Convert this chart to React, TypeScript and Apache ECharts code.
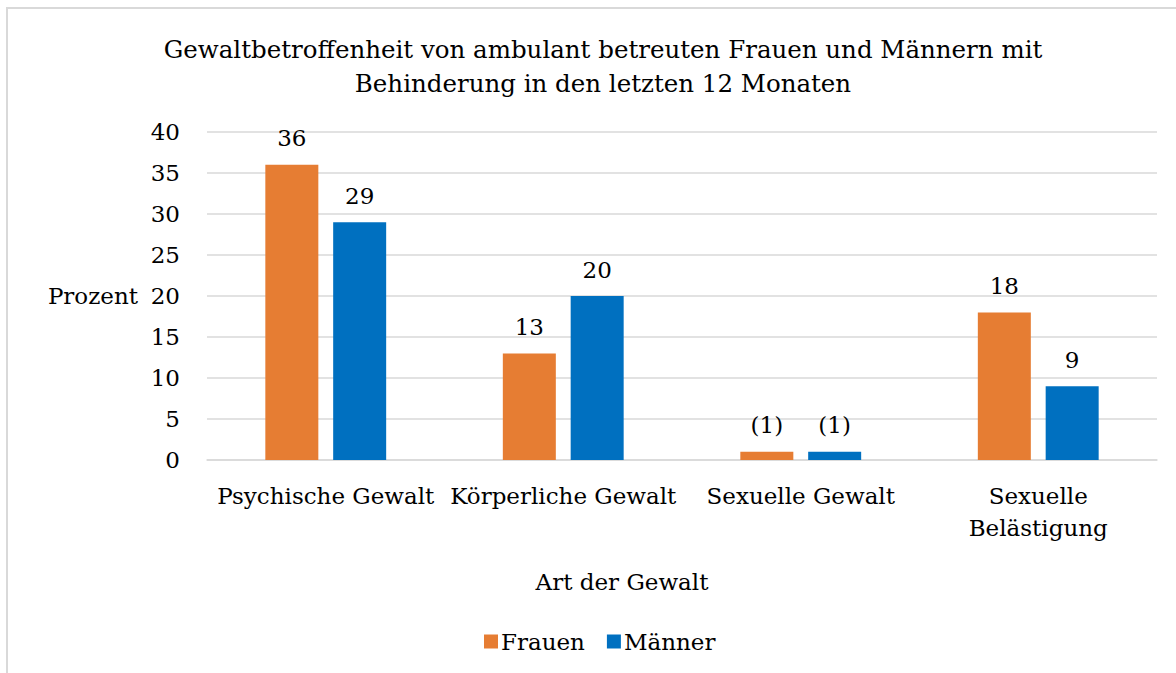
import React, { useEffect, useRef } from "react";
import * as echarts from "echarts";

const categories = ["Psychische Gewalt", "Körperliche Gewalt", "Sexuelle Gewalt", "Sexuelle\nBelästigung"];
const frauen = [36, 13, 1, 18];
const maenner = [29, 20, 1, 9];
const lowCaseCount = [false, false, true, false];
const yTicks = { min: 0, max: 40, interval: 5 };

const FONT = "DejaVu Serif";

export default function App() {
  const ref = useRef<HTMLDivElement>(null);
  useEffect(() => {
    document.body.style.margin = "0";
    document.body.style.overflow = "hidden";
    const chart = echarts.init(ref.current!, null, { renderer: "svg" });
    const labelFmt = (p: any) => (lowCaseCount[p.dataIndex] ? `(${p.value})` : `${p.value}`);
    chart.setOption({
      animation: false,
      backgroundColor: "#ffffff",
      textStyle: { fontFamily: FONT },
      title: {
        text: "Gewaltbetroffenheit von ambulant betreuten Frauen und Männern mit\nBehinderung in den letzten 12 Monaten",
        left: 598,
        top: 27,
        textAlign: "center",
        textStyle: { fontFamily: FONT, fontSize: 24.5, fontWeight: "normal", color: "#000", lineHeight: 34 },
      },
      graphic: [
        {
          type: "rect",
          shape: { x: 7, y: 8, width: 1200, height: 700 },
          style: { fill: "none", stroke: "#D9D9D9", lineWidth: 2 },
          silent: true,
        },
      ],
      legend: {
        left: 479,
        top: 625,
        itemWidth: 14,
        itemHeight: 14,
        itemGap: 22,
        icon: "rect",
        textStyle: { fontFamily: FONT, fontSize: 23, color: "#000", padding: [0, 0, 0, -2] },
        data: ["Frauen", "Männer"],
      },
      grid: { left: 207, right: 19, top: 132, bottom: 673 - 460 },
      xAxis: {
        type: "category",
        data: categories,
        axisLine: { lineStyle: { color: "#D9D9D9", width: 1.5 } },
        axisTick: { show: false },
        axisLabel: { fontFamily: FONT, fontSize: 23, color: "#000", margin: 20, lineHeight: 32, interval: 0 },
        name: "Art der Gewalt",
        nameLocation: "middle",
        nameGap: 110,
        nameTextStyle: { fontFamily: FONT, fontSize: 23, color: "#000", padding: [0, 120, 0, 0] },
      },
      yAxis: {
        type: "value",
        min: yTicks.min,
        max: yTicks.max,
        interval: yTicks.interval,
        axisLabel: { fontFamily: FONT, fontSize: 23, color: "#000", margin: 27 },
        splitLine: { lineStyle: { color: "#D9D9D9", width: 1.5 } },
        name: "Prozent",
        nameLocation: "middle",
        nameRotate: 0,
        nameGap: 69,
        nameTextStyle: { fontFamily: FONT, fontSize: 23, color: "#000", align: "right" },
      },
      series: [
        {
          name: "Frauen",
          type: "bar",
          data: frauen,
          barWidth: 53,
          barGap: "28%",
          itemStyle: { color: "#E67D33" },
          label: { show: true, position: "top", distance: 15, fontFamily: FONT, fontSize: 23, color: "#000", formatter: labelFmt },
        },
        {
          name: "Männer",
          type: "bar",
          data: maenner,
          barWidth: 53,
          barGap: "28%",
          itemStyle: { color: "#0070C0" },
          label: { show: true, position: "top", distance: 15, fontFamily: FONT, fontSize: 23, color: "#000", formatter: labelFmt },
        },
      ],
    });
    return () => chart.dispose();
  }, []);
  return <div ref={ref} style={{ width: 1176, height: 673 }} />;
}
